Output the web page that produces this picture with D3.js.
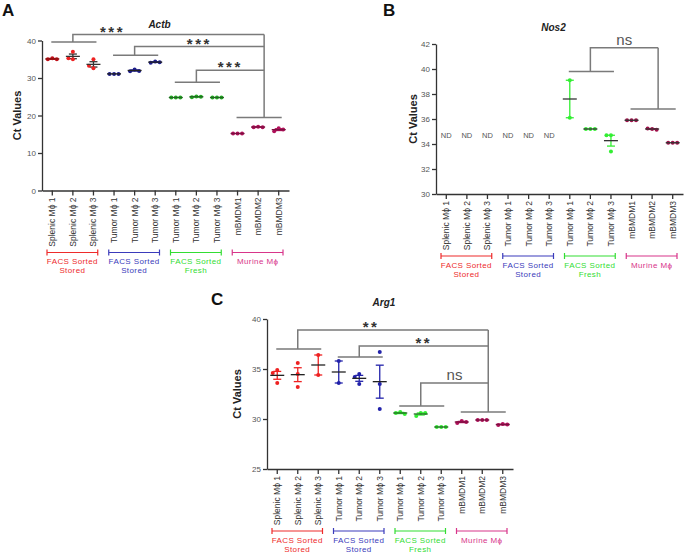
<!DOCTYPE html>
<html>
<head>
<meta charset="utf-8">
<script src="https://cdn.jsdelivr.net/npm/d3@7"></script>
<style>
  body { margin: 0; background: #fff; }
  svg { display: block; font-family: Arial, "Liberation Sans", sans-serif; }
</style>
</head>
<body>
<svg id="chart" width="685" height="555"></svg>
<script>
// categories and groups (same for every panel)
var categories = ["Splenic M\u03d5 1", "Splenic M\u03d5 2", "Splenic M\u03d5 3",
  "Tumor M\u03d5 1", "Tumor M\u03d5 2", "Tumor M\u03d5 3",
  "Tumor M\u03d5 1", "Tumor M\u03d5 2", "Tumor M\u03d5 3",
  "mBMDM1", "mBMDM2", "mBMDM3"];
var groupNames = [["FACS Sorted", "Stored"], ["FACS Sorted", "Stored"], ["FACS Sorted", "Fresh"], ["Murine M\u03d5"]];

// Actb
var actbValues = [
  [35.3, 35.0, 35.0], [37.0, 35.0, 35.3], [35.0, 32.6, 33.3],
  [31.1, 31.1, 31.1], [32.3, 31.8, 31.9], [34.4, 34.1, 34.2],
  [24.8, 24.8, 24.8], [25.1, 24.9, 25.0], [24.8, 24.8, 24.8],
  [15.2, 15.2, 15.2], [17.0, 16.9, 16.9], [16.6, 15.8, 16.3]
];
var actbTicks = [0, 10, 20, 30, 40];
var actbBrackets = [
  {group: 0, bar: 39.6, top: 41.6, label: "***"},
  {group: 1, bar: 36.1, top: 38.4, label: "***"},
  {group: 2, bar: 28.9, top: 32.1, label: "***"}
];
var actbRef = 19.5;

// Nos2 (first six not detected)
var nos2Values = [
  null, null, null, null, null, null,
  [39.1, 36.1], [35.2, 35.2, 35.2], [34.7, 34.7, 33.4],
  [35.9, 35.9, 35.9], [35.2, 35.25, 35.15], [34.1, 34.1, 34.1]
];
var nos2Ticks = [30, 32, 34, 36, 38, 40, 42];
var nos2Brackets = [
  {group: 2, bar: 39.8, top: 41.7, label: "ns"}
];
var nos2Ref = 36.8;
var ndValue = 34.7;

// Arg1
var arg1Values = [
  [34.9, 34.6, 33.6], [35.6, 34.5, 33.2], [36.4, 34.4],
  [35.8, 33.6], [34.5, 34.2, 33.5], [36.7, 33.5, 31.0],
  [30.7, 30.6, 30.5], [30.6, 30.3, 30.6], [29.2, 29.2, 29.2],
  [29.8, 29.6, 29.7], [29.9, 29.9, 29.9], [29.5, 29.4, 29.45]
];
var arg1Ticks = [25, 30, 35, 40];
var arg1Brackets = [
  {group: 0, bar: 37.0, top: 38.9, label: "**"},
  {group: 1, bar: 36.2, top: 37.3, label: "**"},
  {group: 2, bar: 31.3, top: 33.6, label: "ns"}
];
var arg1Ref = 30.7;

var groupColors = ["#ee2b2b", "#3b3bbb", "#33dd33", "#d8358a"];

var svg = d3.select("#chart");

function sem(v) {
  if (v.length < 2) return 0;
  return d3.deviation(v) / Math.sqrt(v.length);
}

var drawPanel = function (o) {
  var g = svg.append("g");

  var x = d3.scaleBand()
    .domain(d3.range(categories.length))
    .range([o.x0, o.x1]);
  var y = d3.scaleLinear()
    .domain(o.yDomain)
    .range([o.y0, o.y1]);
  var cx = function (i) { return x(i) + x.bandwidth() / 2; };

  //Axes

  g.append("g")
    .attr("transform", "translate(" + o.x0 + ",0)")
    .call(d3.axisLeft(y).tickValues(o.yTicks).tickSize(4).tickSizeOuter(0).tickPadding(2))
    .selectAll("text")
      .attr("font-size", 8)
      .attr("fill", "#555");

  var xAxis = g.append("g")
    .attr("transform", "translate(0," + o.y0 + ")")
    .call(d3.axisBottom(x).tickSize(5).tickSizeOuter(0)
      .tickFormat(function (i) { return categories[i]; }));
  xAxis.selectAll("text")
    .attr("transform", "rotate(-90)")
    .attr("text-anchor", "end")
    .attr("x", -7)
    .attr("y", 0)
    .attr("dy", "0.35em")
    .attr("font-size", 8.5)
    .attr("fill", "#333");

  g.selectAll(".domain, .tick line")
    .attr("stroke", "#333")
    .attr("stroke-width", 1.3);

  // y label, title, letter
  g.append("text")
    .attr("transform", "translate(" + o.yLabelX + "," + ((o.y0 + o.y1) / 2) + ") rotate(-90)")
    .attr("text-anchor", "middle")
    .attr("font-size", 11)
    .attr("font-weight", "bold")
    .attr("fill", "#222")
    .text("Ct Values");

  g.append("text")
    .attr("x", (o.x0 + o.x1) / 2 - 6)
    .attr("y", o.y1 - 13)
    .attr("text-anchor", "middle")
    .attr("font-size", 10)
    .attr("font-weight", "bold")
    .attr("font-style", "italic")
    .attr("fill", "#222")
    .text(o.title);

  g.append("text")
    .attr("x", o.letter[1])
    .attr("y", o.letter[2])
    .attr("font-size", 17)
    .attr("font-weight", "bold")
    .attr("fill", "#111")
    .text(o.letter[0]);

  //Points, means and SEM bars

  var points = [];
  o.values.forEach(function (v, i) {
    if (!v) return;
    var placed = [];
    v.forEach(function (val) {
      var hits = placed.filter(function (p) { return Math.abs(y(p) - y(val)) < 3.5; }).length;
      points.push({i: i, v: val, dx: [0, -4.5, 4.5, 0][hits]});
      placed.push(val);
    });
  });

  var stats = o.values.map(function (v, i) {
    return v ? {i: i, m: d3.mean(v), s: sem(v)} : {i: i, nd: true};
  });

  g.selectAll(".nd")
    .data(stats.filter(function (d) { return d.nd; }))
    .join("text")
      .attr("class", "nd")
      .attr("x", function (d) { return cx(d.i); })
      .attr("y", y(ndValue))
      .attr("dy", "0.35em")
      .attr("text-anchor", "middle")
      .attr("font-size", 7.5)
      .attr("fill", "#555")
      .text("ND");

  var st = stats.filter(function (d) { return !d.nd; });

  var err = g.selectAll(".err")
    .data(st.filter(function (d) { return d.s > 0; }))
    .join("g")
      .attr("class", "err")
      .attr("stroke", function (d) { return o.errColors[d.i]; })
      .attr("stroke-width", 1.3);
  err.append("line")
    .attr("x1", function (d) { return cx(d.i); })
    .attr("x2", function (d) { return cx(d.i); })
    .attr("y1", function (d) { return y(d.m - d.s); })
    .attr("y2", function (d) { return y(d.m + d.s); });
  err.selectAll(".cap")
    .data(function (d) { return [{i: d.i, v: d.m - d.s}, {i: d.i, v: d.m + d.s}]; })
    .join("line")
      .attr("x1", function (d) { return cx(d.i) - 4; })
      .attr("x2", function (d) { return cx(d.i) + 4; })
      .attr("y1", function (d) { return y(d.v); })
      .attr("y2", function (d) { return y(d.v); });

  g.selectAll(".pt")
    .data(points)
    .join("circle")
      .attr("class", "pt")
      .attr("cx", function (d) { return cx(d.i) + d.dx; })
      .attr("cy", function (d) { return y(d.v); })
      .attr("r", 2)
      .attr("fill", function (d) { return o.colors[d.i]; });

  g.selectAll(".mean")
    .data(st)
    .join("line")
      .attr("class", "mean")
      .attr("x1", function (d) { return cx(d.i) - 7; })
      .attr("x2", function (d) { return cx(d.i) + 7; })
      .attr("y1", function (d) { return y(d.m); })
      .attr("y2", function (d) { return y(d.m); })
      .attr("stroke", function (d) { return o.meanColors[d.i]; })
      .attr("stroke-width", 1.3);

  //Significance brackets

  var br = g.append("g")
    .attr("stroke", "#7a7a7a")
    .attr("stroke-width", 1.5)
    .attr("fill", "none");
  var dropX = cx(10) + 6;
  var topMax = d3.max(o.brackets, function (b) { return b.top; });

  br.append("line")
    .attr("x1", cx(9) - 1).attr("x2", cx(11) + 3)
    .attr("y1", y(o.ref)).attr("y2", y(o.ref));
  br.append("line")
    .attr("x1", dropX).attr("x2", dropX)
    .attr("y1", y(topMax)).attr("y2", y(o.ref));

  o.brackets.forEach(function (b, k) {
    var first = b.group * 3;
    var gx = cx(first + 1);
    var path = d3.path();
    path.moveTo(cx(first) - 1, y(b.bar));
    path.lineTo(cx(first + 2) + 3, y(b.bar));
    path.moveTo(gx, y(b.bar));
    path.lineTo(gx, y(b.top));
    path.lineTo(dropX, y(b.top));
    br.append("path").attr("d", path.toString());

    var isStar = b.label.charAt(0) === "*";
    g.append("text")
      .attr("x", (gx + dropX) / 2 + o.labelDx[k])
      .attr("y", y(b.top) + (isStar ? 2 : -3))
      .attr("text-anchor", "middle")
      .attr("font-size", 15)
      .attr("font-weight", isStar ? "bold" : "normal")
      .attr("letter-spacing", isStar ? 2.5 : 0)
      .attr("fill", isStar ? "#333" : "#555")
      .text(b.label);
  });

  //Group legends under the axis

  var leg = g.selectAll(".grp")
    .data(groupNames)
    .join("g")
      .attr("class", "grp")
      .attr("fill", function (d, k) { return groupColors[k]; })
      .attr("stroke", function (d, k) { return groupColors[k]; });
  var lx0 = function (k) { return x(k * 3) + 5; };
  var lx1 = function (k) { return x(k * 3 + 2) + x.bandwidth() - 6; };
  var ly = o.y0 + 62;
  leg.append("path")
    .attr("fill", "none")
    .attr("stroke-width", 1.2)
    .attr("d", function (d, k) {
      return "M" + lx0(k) + "," + (ly - 3) + "V" + (ly + 3) + "M" + lx0(k) + "," + ly +
        "H" + lx1(k) + "M" + lx1(k) + "," + (ly - 3) + "V" + (ly + 3);
    });
  leg.selectAll("text")
    .data(function (d, k) { return d.map(function (t, j) { return {t: t, j: j, k: k}; }); })
    .join("text")
      .attr("stroke", "none")
      .attr("x", function (d) { return (lx0(d.k) + lx1(d.k)) / 2; })
      .attr("y", function (d) { return ly + 11.5 + d.j * 9; })
      .attr("text-anchor", "middle")
      .attr("font-size", 8)
      .attr("letter-spacing", 0.4)
      .text(function (d) { return d.t; });
};

//Panel A

var red = "#ee2222", navy = "#1c1c8c", green = "#22aa22", maroon = "#b0105a";
drawPanel({
  values: actbValues, yDomain: [0, 40], yTicks: actbTicks,
  brackets: actbBrackets, ref: actbRef, labelDx: [-56, 0, 0],
  x0: 42, x1: 289, y0: 190.5, y1: 40.5, yLabelX: 21,
  title: "Actb", letter: ["A", 2, 16],
  colors: ["#c0101a", red, red, navy, navy, navy, green, green, green, maroon, maroon, maroon],
  errColors: ["#8a1010", "#333", "#333", navy, navy, navy, green, green, green, maroon, maroon, maroon],
  meanColors: ["#8a1010", "#333", "#333", "#222", "#222", "#222", "#226622", "#226622", "#226622", "#7a1040", "#7a1040", "#7a1040"]
});

//Panel B

var lime = "#33ee33", plum = "#a0104a";
drawPanel({
  values: nos2Values, yDomain: [30, 42], yTicks: nos2Ticks,
  brackets: nos2Brackets, ref: nos2Ref, labelDx: [0],
  x0: 436, x1: 683, y0: 194, y1: 44, yLabelX: 417,
  title: "Nos2", letter: ["B", 383, 16],
  colors: [null, null, null, null, null, null, lime, lime, lime, plum, plum, plum],
  errColors: [null, null, null, null, null, null, lime, lime, lime, plum, plum, plum],
  meanColors: [null, null, null, null, null, null, "#333", "#333", "#333", "#333", "#333", "#333"]
});

//Panel C

var blue = "#2222aa";
drawPanel({
  values: arg1Values, yDomain: [25, 40], yTicks: arg1Ticks,
  brackets: arg1Brackets, ref: arg1Ref, labelDx: [-22, 0, 0],
  x0: 267, x1: 513, y0: 469, y1: 319, yLabelX: 241,
  title: "Arg1", letter: ["C", 211, 305],
  colors: [red, red, red, blue, blue, blue, lime, lime, lime, maroon, maroon, maroon],
  errColors: [red, red, red, blue, blue, blue, lime, lime, lime, maroon, maroon, maroon],
  meanColors: ["#222", "#222", "#222", "#222", "#222", "#222", "#226622", "#226622", "#226622", "#7a1040", "#7a1040", "#7a1040"]
});
</script>
</body>
</html>
